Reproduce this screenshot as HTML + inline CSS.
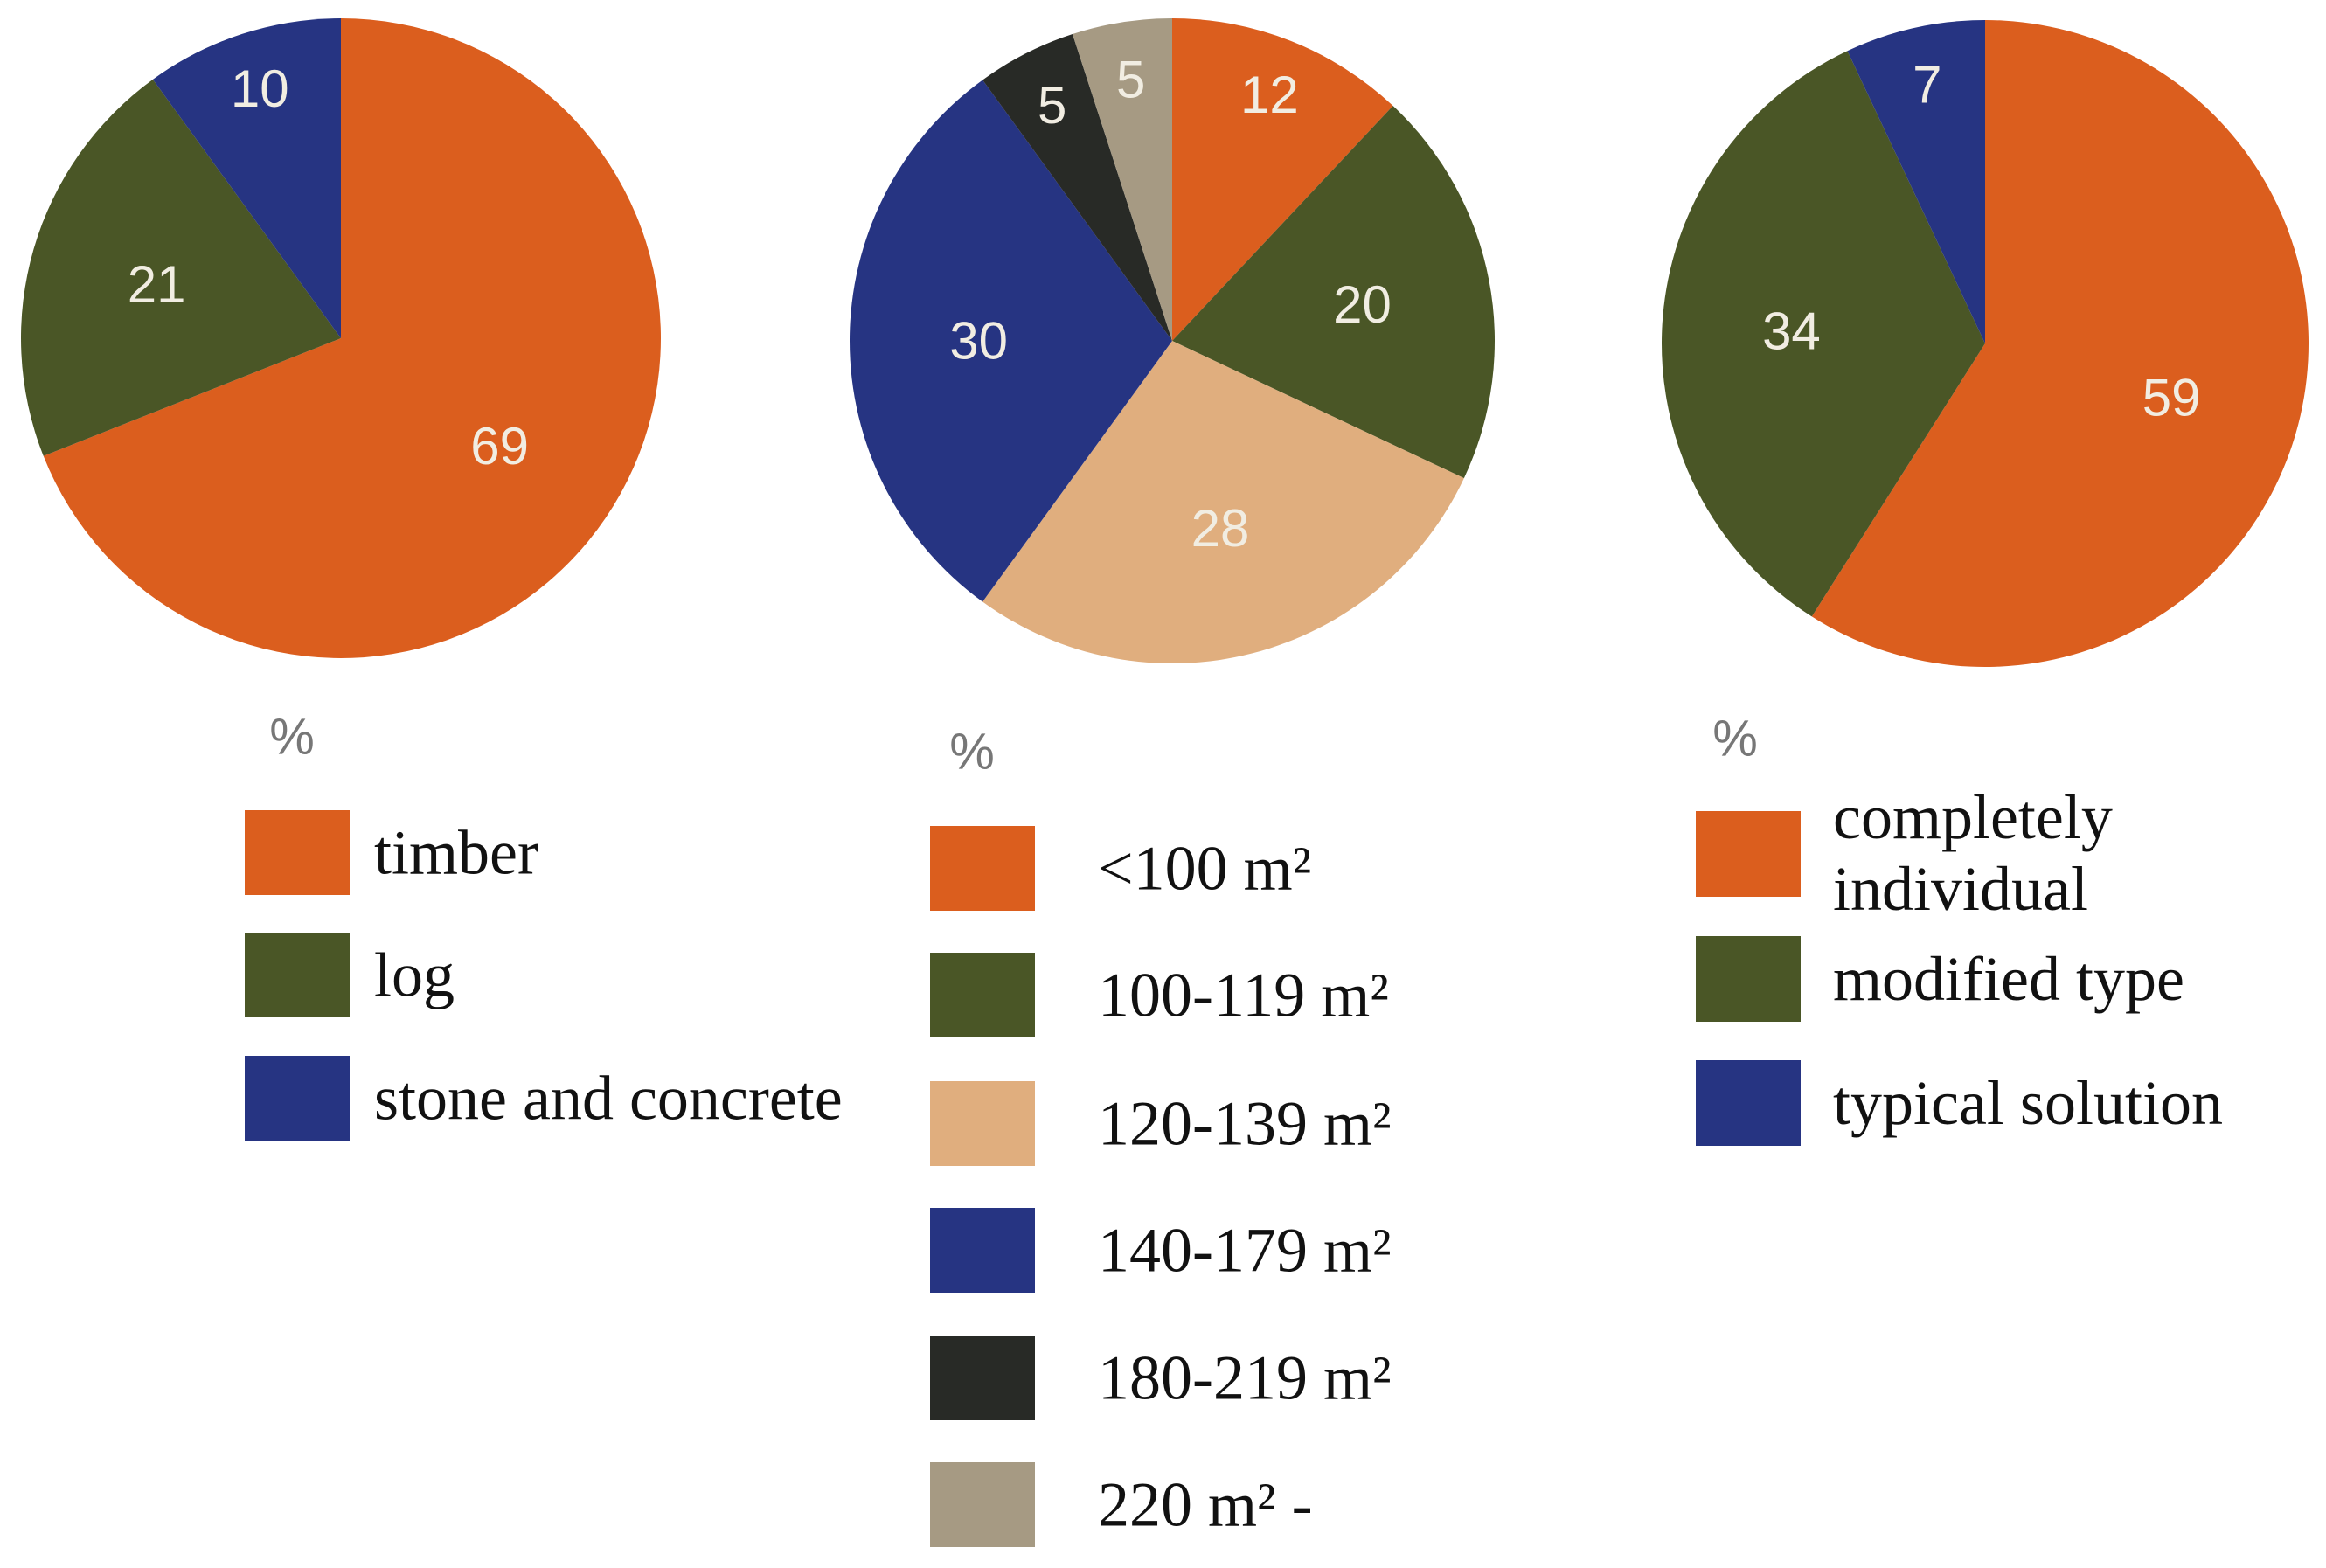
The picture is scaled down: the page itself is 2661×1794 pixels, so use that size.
<!DOCTYPE html>
<html><head><meta charset="utf-8"><style>
html,body{margin:0;padding:0;background:#fff;}
svg{display:block;}
.num{font-family:"Liberation Sans",sans-serif;font-size:60px;fill:#f1ede2;text-anchor:middle;dominant-baseline:central;}
.pct{font-family:"Liberation Sans",sans-serif;font-size:58px;fill:#777;text-anchor:middle;dominant-baseline:central;}
.leg{font-family:"Liberation Serif",serif;font-size:72px;fill:#111;dominant-baseline:central;}
</style></head><body>
<svg id="chart" width="2661" height="1794" viewBox="0 0 2661 1794"></svg>
<script>
const pie1Labels = ["timber","log","stone and concrete"];
const pie1Values = [69,21,10];
const pie2Labels = ["<100 m²","100-119 m²","120-139 m²","140-179 m²","180-219 m²","220 m² -"];
const pie2Values = [12,20,28,30,5,5];
const pie3Labels = ["completely individual","modified type","typical solution"];
const pie3Values = [59,34,7];
const pie1Colors = ["#DB5E1E","#4A5626","#263482"];
const pie2Colors = ["#DB5E1E","#4A5626","#E0AE7E","#263482","#282A26","#A69A83"];
const pie3Colors = ["#DB5E1E","#4A5626","#263482"];

const NS="http://www.w3.org/2000/svg";
const svg=document.getElementById('chart');
function mk(tag,attrs,parent){const e=document.createElementNS(NS,tag);for(const k in attrs)e.setAttribute(k,attrs[k]);(parent||svg).appendChild(e);return e;}

function drawPie(id,cx,cy,r,values,colors,labels){
  const g=mk('g',{});
  
  
  const total=values.reduce((a,b)=>a+b,0);
  let acc=0;
  values.forEach((v,i)=>{
    const a0=acc/total*2*Math.PI; acc+=v; const a1=acc/total*2*Math.PI;
    const x0=cx+r*Math.sin(a0),y0=cy-r*Math.cos(a0),x1=cx+r*Math.sin(a1),y1=cy-r*Math.cos(a1);
    const large=(a1-a0)>Math.PI?1:0;
    const p=mk('path',{d:`M${cx},${cy} L${x0},${y0} A${r},${r} 0 ${large} 1 ${x1},${y1} Z`,fill:colors[i]},g);
    
    
    const am=(a0+a1)/2; const f=(v/total)<0.15?0.82:0.6;
    const t=mk('text',{x:cx+f*r*Math.sin(am),y:cy-f*r*Math.cos(am),class:'num'},g);
    t.textContent=v;
    
    
  });
}
drawPie('pie-material',390,387,366,pie1Values,pie1Colors,pie1Labels);
drawPie('pie-floor-area',1341,390,369,pie2Values,pie2Colors,pie2Labels);
drawPie('pie-design-type',2271,393,370,pie3Values,pie3Colors,pie3Labels);

function pct(x,y){const t=mk('text',{x:x,y:y,class:'pct'});t.textContent='%';
  
  }
pct(334,843);pct(1112,860);pct(1985,845);

function legend(id,labels,colors,sx,tops,tx,h){
  labels.forEach((lab,i)=>{
    const g=mk('g',{});
    
    
    const r=mk('rect',{x:sx,y:tops[i],width:120,height:h,fill:colors[i]},g);
    
    
    const words=lab==="completely individual"?["completely","individual"]:[lab];
    words.forEach((w,j)=>{
      const t=mk('text',{x:tx,y:tops[i]+h/2+(words.length>1?(j?40:-42):0),class:'leg'},g);
      t.textContent=w;
      
      
    });
  });
}
legend('legend-material',pie1Labels,pie1Colors,280,[927,1067,1208],428,97);
legend('legend-floor-area',pie2Labels,pie2Colors,1064,[945,1090,1237,1382,1528,1673],1256,97);
legend('legend-design-type',pie3Labels,pie3Colors,1940,[928,1071,1213],2097,98);
</script>
</body></html>
